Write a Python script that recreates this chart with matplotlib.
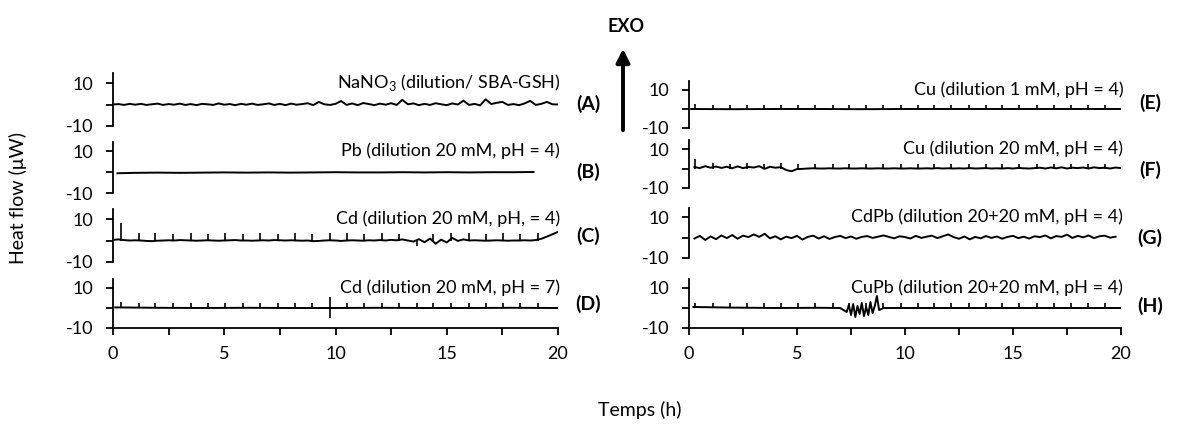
import numpy as np
import matplotlib
matplotlib.use("Agg")
import matplotlib.pyplot as plt
from matplotlib.patches import FancyArrowPatch

plt.rcParams['font.family'] = ['Lato', 'DejaVu Sans']
plt.rcParams['mathtext.fontset'] = 'custom'
plt.rcParams['mathtext.rm'] = 'Lato'

# ==========================================================
# DATA (heat flow in uW vs time in h)
# ==========================================================
titles = {
    'A': 'NaNO$_{\\mathregular{3}}$ (dilution/ SBA-GSH)',
    'B': 'Pb (dilution 20 mM, pH = 4)',
    'C': 'Cd (dilution 20 mM, pH, = 4)',
    'D': 'Cd (dilution 20 mM, pH = 7)',
    'E': 'Cu (dilution 1 mM, pH = 4)',
    'F': 'Cu (dilution 20 mM, pH = 4)',
    'G': 'CdPb (dilution 20+20 mM, pH = 4)',
    'H': 'CuPb (dilution 20+20 mM, pH = 4)',
}
x_ticks = [0, 5, 10, 15, 20]
y_ticks = [-10, 0, 10]
y_ticklabels = ['-10', '', '10']

# baselines sampled every 0.25 h
A_t = np.arange(0, 20.01, 0.25)
A_y = [0.0, 0.2, -0.2, 0.3, -0.1, 0.3, -0.2, 0.1,
       0.4, -0.2, 0.2, -0.1, 0.4, -0.2, 0.2, -0.3,
       0.3, 0.1, -0.2, 0.5, -0.1, 0.2, -0.3, 0.3,
       -0.1, 0.4, -0.2, 0.1, 0.5, -0.2, 0.3, -0.3,
       0.4, -0.1, 0.2, 0.6, -0.3, 1.2, 0.1, -0.2,
       0.3, 1.6, -0.2, 0.5, -0.3, 0.7, 0.2, -0.3,
       0.4, -0.1, 0.6, -0.2, 2.2, 0.1, 0.5, -0.3,
       0.3, -0.2, 0.6, 0.1, -0.3, 0.5, 0.0, 1.8,
       -0.2, 0.3, -0.4, 2.4, 0.2, 0.8, 1.2, -0.2,
       0.2, -0.3, 0.5, 1.7, -0.2, 0.3, 1.2, 0.1,
       0.0]

B_t = [0.2, 1, 2, 3, 4, 5, 6, 7, 8, 9, 10, 11, 12, 13, 14, 15, 16, 17, 18, 18.9]
B_y = [-0.6, -0.4, -0.3, -0.4, -0.3, -0.2, -0.3, -0.2, -0.3, -0.2,
       -0.1, -0.2, -0.2, -0.1, -0.2, -0.1, -0.2, -0.1, -0.1, 0.0]

C_t = np.arange(0, 20.01, 0.25)
C_y = [0.3, 0.5, 0.2, 0.0, 0.1, 0.0, -0.2, -0.3,
       -0.1, 0.0, 0.1, 0.0, 0.2, 0.1, 0.0, -0.1,
       0.0, 0.1, 0.0, -0.1, 0.0, 0.1, 0.2, 0.0,
       0.0, -0.1, 0.0, 0.1, 0.0, 0.2, 0.1, 0.0,
       0.1, 0.0, -0.1, 0.0, -0.3, -0.2, 0.0, 0.1,
       0.0, -0.2, 0.0, 0.1, 0.0, -0.1, 0.1, 0.0,
       0.2, 0.0, 0.3, 0.1, 0.5, 0.0, -0.5, 0.6,
       -0.8, 0.9, -1.5, 0.4, -0.9, 1.2, -0.2, 0.5,
       0.0, 0.1, 0.0, -0.1, 0.0, 0.1, 0.0, -0.1,
       0.0, 0.0, 0.1, 0.0, 0.2, 0.8, 1.8, 2.9,
       4.0]

D_t = [0.1, 2, 4, 6, 8, 10, 12, 14, 16, 18, 20]
D_y = [0.3, 0.1, 0.0, 0.1, 0.0, 0.0, 0.1, 0.0, 0.0, 0.1, 0.0]

E_t = [0.1, 2, 4, 6, 8, 10, 12, 14, 16, 18, 20]
E_y = [0.0, -0.1, 0.0, 0.0, -0.1, 0.0, 0.0, 0.0, 0.0, 0.0, 0.0]

F_t = np.arange(0.25, 20.01, 0.25)
F_y = [0.8, 0.2, 1.2, 0.4, 1.0, 0.3, 0.9, 0.1,
       1.1, 0.2, 0.8, 0.5, 1.2, -0.2, 0.9, 0.4,
       0.7, -0.8, -1.4, -0.3, -0.2, 0.0, 0.1, 0.0,
       0.0, 0.1, 0.0, 0.0, 0.1, 0.0, 0.0, 0.1,
       0.0, 0.0, 0.1, 0.0, 0.0, 0.1, 0.0, 0.0,
       0.1, 0.0, 0.0, 0.1, 0.0, 0.2, 0.0, 0.1,
       0.0, 0.1, 0.0, 0.2, 0.0, 0.1, 0.2, 0.0,
       0.1, 0.0, 0.2, 0.0, 0.3, 0.1, 0.0, 0.2,
       0.4, 0.0, 0.5, 0.1, 0.6, 0.0, 0.4, 0.2,
       0.5, 0.0, 0.6, 0.2, 0.4, 0.0, 0.5, 0.2]

G_t = np.arange(0.25, 19.76, 0.25)
G_y = [-0.5, 0.8, -1.2, 0.5, -0.8, 1.0, -0.3, 1.2,
       -0.6, 0.9, 0.2, 1.5, 0.3, 1.8, -0.4, 0.6,
       -0.9, 0.4, -0.3, 0.8, -1.0, 0.3, 0.9, -0.5,
       0.6, -0.7, 0.2, 0.8, -0.3, 0.5, -0.6, 0.3,
       0.7, -0.2, 0.4, 1.0, 0.3, -0.4, 0.6, 0.2,
       -0.5, 0.8, -0.2, 0.4, 0.9, -0.3, 0.6, 1.5,
       0.2, -0.6, 0.5, -0.9, 0.3, -0.4, 0.7, -0.2,
       0.5, -0.6, 0.3, 0.8, -0.3, 0.4, -0.5, 0.6,
       0.2, 1.0, -0.4, 0.7, 0.3, 1.4, -0.2, 0.8,
       0.1, 1.0, -0.3, 0.6, 0.9, -0.1, 0.4]

H_t = [0.2, 2, 4, 6, 7.0, 7.3, 7.4, 7.5, 7.6, 7.7, 7.8, 7.9, 8.0, 8.1,
       8.2, 8.3, 8.4, 8.5, 8.6, 8.7, 8.8, 9.0, 12, 16, 20]
H_y = [0.5, 0.2, 0.0, 0.1, 0.0, -2.0, 1.5, -3.5, 2.0, -4.5, 1.0, -3.0, 2.5,
       -4.0, 0.5, -3.5, 3.0, -2.5, 1.0, 6.0, -1.0, 0.0, 0.0, 0.0, 0.0]

# injection peaks
inj_left = [0.35, 1.15, 1.9, 2.7, 3.5, 4.25, 5.05, 5.85, 6.6, 7.4, 8.2, 8.95,
            9.75, 10.5, 11.3, 12.1, 12.85, 13.65, 14.4, 15.2, 16.0, 16.75,
            17.55, 18.3, 19.1]
inj_right = [0.3, 1.1, 1.9, 2.7, 3.45, 4.25, 5.05, 5.85, 6.65, 7.4, 8.2, 9.0,
             9.8, 10.6, 11.35, 12.15, 12.95, 13.75, 14.5, 15.3, 16.1, 16.9,
             17.7, 18.45, 19.25]
C_peak = [8, 3.5, 3.5, 3, 3.5, 3, 3.5, 3, 3.5, 3, 3.5, 3, 3.5, 3.5, 3, 3.5,
          3, -2.5, 3, 3.5, 3.5, 3, 3.5, 3, 3.5]
D_peak = [3, 2.5, 2.5, 2.5, 2.5, 2.5, 2.5, 2.5, 2.5, 2.5, 2.5, 2.5, 5.5, 2.5,
          2.5, 2.5, 2.5, 2.5, 2.5, 2.5, 2.5, 2.5, 2.5, 2.5, 2.5]
D_dip_t = [9.75]
D_dip = [-5]
E_peak = [2.5, 2, 2, 2, 2, 2, 2, 2, 2, 2, 2, 2, 2, 2, 2, 2, 2, 2, 2, 2, 2,
          2, 2, 2, 2]
F_peak = [5, 3, 2.5, 3, 2.5, 3, 2.5, 2.5, 2.5, 2.5, 2.5, 2.5, 2.5, 2.5, 2.5,
          2.5, 2.5, 2.5, 2.5, 2.5, 2.5, 2.5, 2.5, 2.5, 2.5]
H_peak = [2.5, 2.5, 2.5, 2.5, 2.5, 2.5, 2.5, 2.5, 2.5, 2.5, 2.5, 2.5, 2.5,
          2.5, 2.5, 2.5, 2.5, 2.5, 2.5, 2.5, 2.5, 2.5, 2.5, 2.5, 2.5]

traces = {
    'A': (A_t, A_y, None, None),
    'B': (B_t, B_y, None, None),
    'C': (C_t, C_y, inj_left, C_peak),
    'D': (D_t, D_y, inj_left, D_peak),
    'E': (E_t, E_y, inj_right, E_peak),
    'F': (F_t, F_y, inj_right, F_peak),
    'G': (G_t, G_y, None, None),
    'H': (H_t, H_y, inj_right, H_peak),
}

# ==========================================================
# LAYOUT (pixels)
# ==========================================================
W, Hpx = 1190, 429
YMAX = 14.5
cols = {'left': (113, 558), 'right': (689, 1121)}
# panel -> (column, y of +10, y of -10, y of label)
panels = {
    'A': ('left', 83, 126, 104), 'B': ('left', 151, 193, 172),
    'C': ('left', 219, 262, 236), 'D': ('left', 288, 328, 304),
    'E': ('right', 90, 128, 103), 'F': ('right', 149, 188, 170),
    'G': ('right', 217, 258, 238), 'H': ('right', 288, 328, 306),
}
label_x = {'left': 588, 'right': 1150}

fig = plt.figure(figsize=(W / 100, Hpx / 100), dpi=100)
FS = 13
LW = 1.4

for key, (col, y10, ybot, ylab) in panels.items():
    x0, x1 = cols[col]
    scale = (ybot - y10) / 20.0
    ytop = y10 - (YMAX - 10) * scale
    ax = fig.add_axes([x0 / W, 1 - ybot / Hpx, (x1 - x0) / W, (ybot - ytop) / Hpx])
    ax.patch.set_alpha(0)

    t, y, inj, peak = traces[key]
    ax.plot(t, y, color='black', lw=LW)
    if inj is not None:
        ax.vlines(inj, 0, peak, color='black', lw=1.2)
    if key == 'D':
        ax.vlines(D_dip_t, D_dip, 0, color='black', lw=1.2)

    ax.set_xlim(0, 20)
    ax.set_ylim(-10, YMAX)
    ax.set_yticks(y_ticks)
    ax.set_yticklabels(y_ticklabels)
    for s in ['top', 'right']:
        ax.spines[s].set_visible(False)
    ax.spines['left'].set_linewidth(1.3)
    ax.tick_params(axis='y', direction='out', length=5, width=1.3, pad=9, labelsize=FS)

    if key in ('D', 'H'):
        ax.spines['bottom'].set_linewidth(1.3)
        ax.set_xticks(x_ticks)
        ax.set_xticks([2.5, 7.5, 12.5, 17.5], minor=True)
        ax.tick_params(axis='x', which='both', direction='out', length=5, width=1.3,
                       pad=8, labelsize=FS)
    else:
        ax.spines['bottom'].set_visible(False)
        ax.tick_params(axis='x', bottom=False, labelbottom=False)

    ax.text(20.1, 10.3, titles[key], ha='right', va='center', fontsize=FS)
    fig.text(label_x[col] / W, 1 - ylab / Hpx, '(%s)' % key, ha='center', va='center',
             fontsize=14, fontweight='bold')

# axis titles
fig.text(18 / W, 1 - 198 / Hpx, 'Heat flow (\u03bcW)', rotation=90, ha='center',
         va='center', fontsize=14)
fig.text(640 / W, 1 - 410 / Hpx, 'Temps (h)', ha='center', va='center', fontsize=14)

# EXO arrow
arrow = FancyArrowPatch((623 / W, 1 - 133 / Hpx), (623 / W, 1 - 46 / Hpx),
                        transform=fig.transFigure, arrowstyle='-|>', mutation_scale=20,
                        lw=2.8, color='black')
fig.add_artist(arrow)
fig.text(626 / W, 1 - 27 / Hpx, 'EXO', ha='center', va='center', fontsize=13,
         fontweight='bold')

fig.savefig('out.png', dpi=100)
